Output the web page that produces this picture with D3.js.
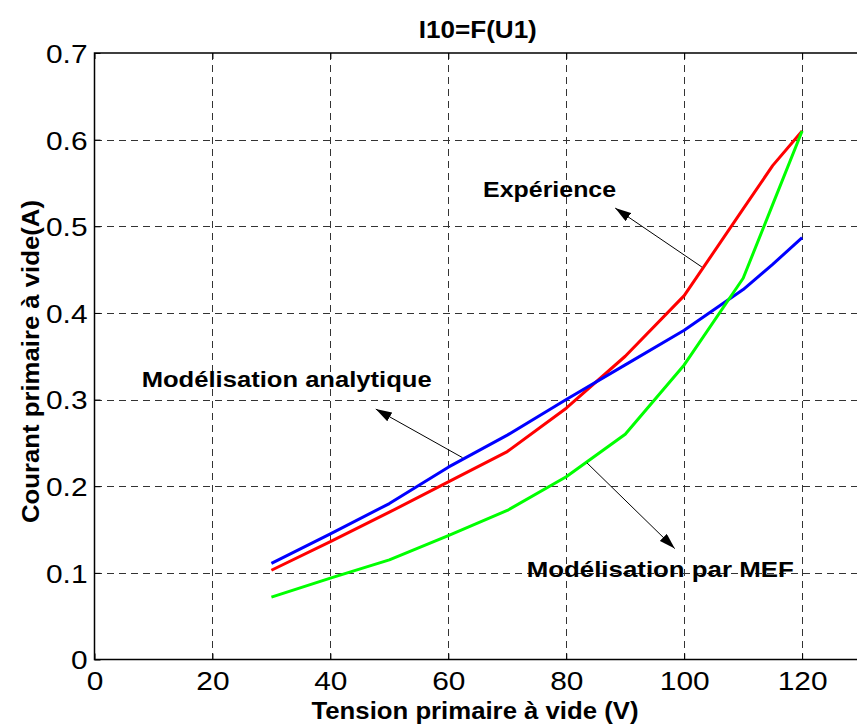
<!DOCTYPE html>
<html>
<head>
<meta charset="utf-8">
<script src="https://cdn.jsdelivr.net/npm/d3@7"></script>
<style>
  html, body { margin: 0; padding: 0; background: #fff; }
  svg { display: block; font-family: "Liberation Sans", Arial, Helvetica, sans-serif; }
</style>
</head>
<body>
<svg id="chart" width="857" height="726"></svg>
<script>
// Primary no-load voltage (V)
const voltage = [30, 40, 50, 60, 70, 80, 90, 100, 110, 115, 120];
// No-load primary current (A) for each approach
const experience = [0.103, 0.136, 0.170, 0.205, 0.240, 0.290, 0.350, 0.420, 0.520, 0.570, 0.610];
const analytique = [0.111, 0.145, 0.180, 0.222, 0.259, 0.300, 0.340, 0.380, 0.427, 0.456, 0.487];
const mef        = [0.072, 0.094, 0.115, 0.143, 0.172, 0.211, 0.260, 0.340, 0.440, 0.525, 0.610];

const xTicks = [0, 20, 40, 60, 80, 100, 120];
const yTicks = [0, 0.1, 0.2, 0.3, 0.4, 0.5, 0.6, 0.7];

const seriesNames  = ["Expérience", "Modélisation analytique", "Modélisation par MEF"];
const seriesColors = ["#ff0000", "#0000ff", "#00ff00"];
const seriesValues = [experience, analytique, mef];

// Text annotations with arrows, in data units: [textX, textY, fromX, fromY, toX, toY]
const annotText = ["Expérience", "Modélisation analytique", "Modélisation par MEF"];
const annotPos = [
  [65.9, 0.534, 103.0, 0.453, 88.3, 0.521],
  [8.0, 0.315, 62.4, 0.233, 47.7, 0.289],
  [73.3, 0.0956, 83.5, 0.227, 98.4, 0.128]
];

const svg = d3.select("#chart");
const pLeft = 94.5, pRight = 861.1, pTop = 53, pBottom = 659.5;

const x = d3.scaleLinear().domain([0, 130]).range([pLeft, pRight]);
const y = d3.scaleLinear().domain([0, 0.7]).range([pBottom, pTop]);

svg.append("rect").attr("width", 857).attr("height", 726).attr("fill", "#fff");

// dashed grid
const grid = svg.append("g").attr("stroke", "#333").attr("stroke-width", 1)
  .attr("stroke-dasharray", "7,5").attr("shape-rendering", "crispEdges");
grid.selectAll("line.v").data(xTicks.filter(d => d > 0)).join("line")
  .attr("x1", d => Math.round(x(d)) + 0.5).attr("x2", d => Math.round(x(d)) + 0.5)
  .attr("y1", pTop).attr("y2", pBottom);
grid.selectAll("line.h").data(yTicks.filter(d => d > 0 && d < 0.7)).join("line")
  .attr("x1", pLeft).attr("x2", pRight)
  .attr("y1", d => Math.round(y(d)) + 0.5).attr("y2", d => Math.round(y(d)) + 0.5);

// curves
const line = d3.line().x((d, i) => x(voltage[i])).y(d => y(d));
seriesValues.forEach((vals, k) => {
  svg.append("path").datum(vals)
    .attr("d", line)
    .attr("fill", "none")
    .attr("stroke", seriesColors[k])
    .attr("stroke-width", 3)
    .attr("stroke-linejoin", "round");
});

// axes with inward ticks
const tickScale = 1.15;
const xAxis = svg.append("g").attr("transform", `translate(0,${pBottom})`)
  .call(d3.axisBottom(x).tickValues(xTicks).tickSizeInner(-6).tickSizeOuter(0).tickPadding(10));
const yAxis = svg.append("g").attr("transform", `translate(${pLeft},0)`)
  .call(d3.axisLeft(y).tickValues(yTicks).tickFormat(d => d === 0 ? "0" : d3.format(".1f")(d))
    .tickSizeInner(-6).tickSizeOuter(0).tickPadding(7));
const xTop = svg.append("g").attr("transform", `translate(0,${pTop})`)
  .call(d3.axisTop(x).tickValues(xTicks).tickSizeInner(-6).tickSizeOuter(0).tickFormat(""));

[xAxis, yAxis, xTop].forEach(g => {
  g.select(".domain").remove();
  g.selectAll(".tick line").attr("stroke", "#000").attr("stroke-width", 1);
});
xAxis.selectAll(".tick text")
  .attr("font-size", 26).attr("fill", "#000")
  .attr("y", 12).attr("dy", "0.71em")
  .attr("transform", `scale(${tickScale},1)`);
yAxis.selectAll(".tick text")
  .attr("font-size", 26).attr("fill", "#000")
  .attr("x", -7 / tickScale).attr("dy", "0.36em")
  .attr("transform", `scale(${tickScale},1)`);

// plot box
svg.append("rect")
  .attr("x", pLeft).attr("y", pTop).attr("width", pRight - pLeft).attr("height", pBottom - pTop)
  .attr("fill", "none").attr("stroke", "#000").attr("stroke-width", 1.5);

// arrows
const defs = svg.append("defs");
defs.append("marker").attr("id", "head")
  .attr("viewBox", "0 0 16 10").attr("refX", 16).attr("refY", 5)
  .attr("markerWidth", 16).attr("markerHeight", 10).attr("markerUnits", "userSpaceOnUse")
  .attr("orient", "auto")
  .append("path").attr("d", "M0,0 L16,5 L0,10 Z").attr("fill", "#000");

annotPos.forEach((p, i) => {
  svg.append("line")
    .attr("x1", x(p[2])).attr("y1", y(p[3]))
    .attr("x2", x(p[4])).attr("y2", y(p[5]))
    .attr("stroke", "#000").attr("stroke-width", 1)
    .attr("marker-end", "url(#head)");
});

const annotWidths = [133, 290, 267];
annotPos.forEach((p, i) => {
  svg.append("text")
    .attr("x", x(p[0])).attr("y", y(p[1]))
    .attr("font-size", 22).attr("font-weight", "bold").attr("fill", "#000")
    .attr("textLength", annotWidths[i]).attr("lengthAdjust", "spacingAndGlyphs")
    .text(annotText[i]);
});

// title and axis labels
svg.append("text")
  .attr("x", (pLeft + pRight) / 2 - 59).attr("y", 38)
  .attr("font-size", 24).attr("font-weight", "bold")
  .attr("textLength", 118).attr("lengthAdjust", "spacingAndGlyphs")
  .text("I10=F(U1)");

svg.append("text")
  .attr("x", 475 - 163.5).attr("y", 719)
  .attr("font-size", 24).attr("font-weight", "bold")
  .attr("textLength", 327).attr("lengthAdjust", "spacingAndGlyphs")
  .text("Tension primaire à vide (V)");

svg.append("text")
  .attr("transform", `translate(39,${361.5 + 161.5}) rotate(-90)`)
  .attr("font-size", 24).attr("font-weight", "bold")
  .attr("textLength", 323).attr("lengthAdjust", "spacingAndGlyphs")
  .text("Courant primaire à vide(A)");
</script>
</body>
</html>
